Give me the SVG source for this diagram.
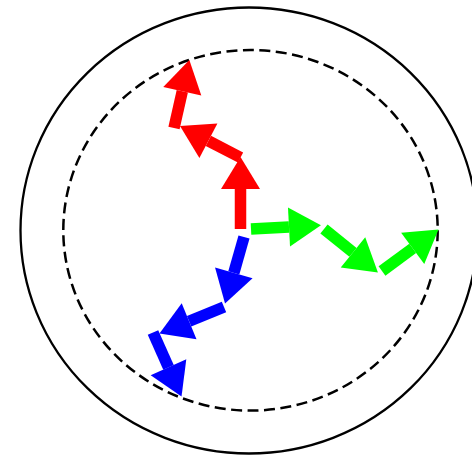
<svg xmlns="http://www.w3.org/2000/svg" width="472" height="456" viewBox="0 0 472 456">
<style>
.outer{fill:none;stroke:#000;stroke-width:2.3}
.inner{fill:none;stroke:#000;stroke-width:2.5;stroke-dasharray:11 5.5}
.step{fill:none;stroke-width:11.5;stroke-linecap:butt}
.r{stroke:#ff0000}.g{stroke:#00ff00}.b{stroke:#0000ff}
</style>
<defs>
<marker id="hr" markerUnits="userSpaceOnUse" orient="auto" refX="0" refY="0" markerWidth="40" markerHeight="40" overflow="visible"><path d="M0,-19.5 L32,0 L0,19.5 z" fill="#ff0000"/></marker>
<marker id="hg" markerUnits="userSpaceOnUse" orient="auto" refX="0" refY="0" markerWidth="40" markerHeight="40" overflow="visible"><path d="M0,-19.5 L32,0 L0,19.5 z" fill="#00ff00"/></marker>
<marker id="hb" markerUnits="userSpaceOnUse" orient="auto" refX="0" refY="0" markerWidth="40" markerHeight="40" overflow="visible"><path d="M0,-19.5 L32,0 L0,19.5 z" fill="#0000ff"/></marker>
</defs>
<rect width="472" height="456" fill="#fff"/>
<g id="boundaries">
<ellipse id="outer" class="outer" cx="249" cy="230.5" rx="228.5" ry="223"/>
<ellipse id="inner" class="inner" cx="250.5" cy="230.3" rx="187.2" ry="180.3"/>
</g>
<g id="connectors">
<g id="red-walk">
<line class="step r" x1="240.5" y1="229" x2="240.5" y2="189" marker-end="url(#hr)"/>
<line class="step r" x1="240.5" y1="157.5" x2="208.4" y2="140.8" marker-end="url(#hr)"/>
<line class="step r" x1="174" y1="128" x2="182.3" y2="91.2" marker-end="url(#hr)"/>
</g>
<g id="green-walk">
<line class="step g" x1="251" y1="229" x2="289" y2="227" marker-end="url(#hg)"/>
<line class="step g" x1="324" y1="229" x2="353" y2="252.4" marker-end="url(#hg)"/>
<line class="step g" x1="382" y1="271" x2="412.7" y2="248.4" marker-end="url(#hg)"/>
</g>
<g id="blue-walk">
<line class="step b" x1="244" y1="237" x2="233.8" y2="272.8" marker-end="url(#hb)"/>
<line class="step b" x1="224" y1="307" x2="189.1" y2="321.3" marker-end="url(#hb)"/>
<line class="step b" x1="153" y1="332.5" x2="168.5" y2="367.3" marker-end="url(#hb)"/>
</g>
</g>
</svg>
